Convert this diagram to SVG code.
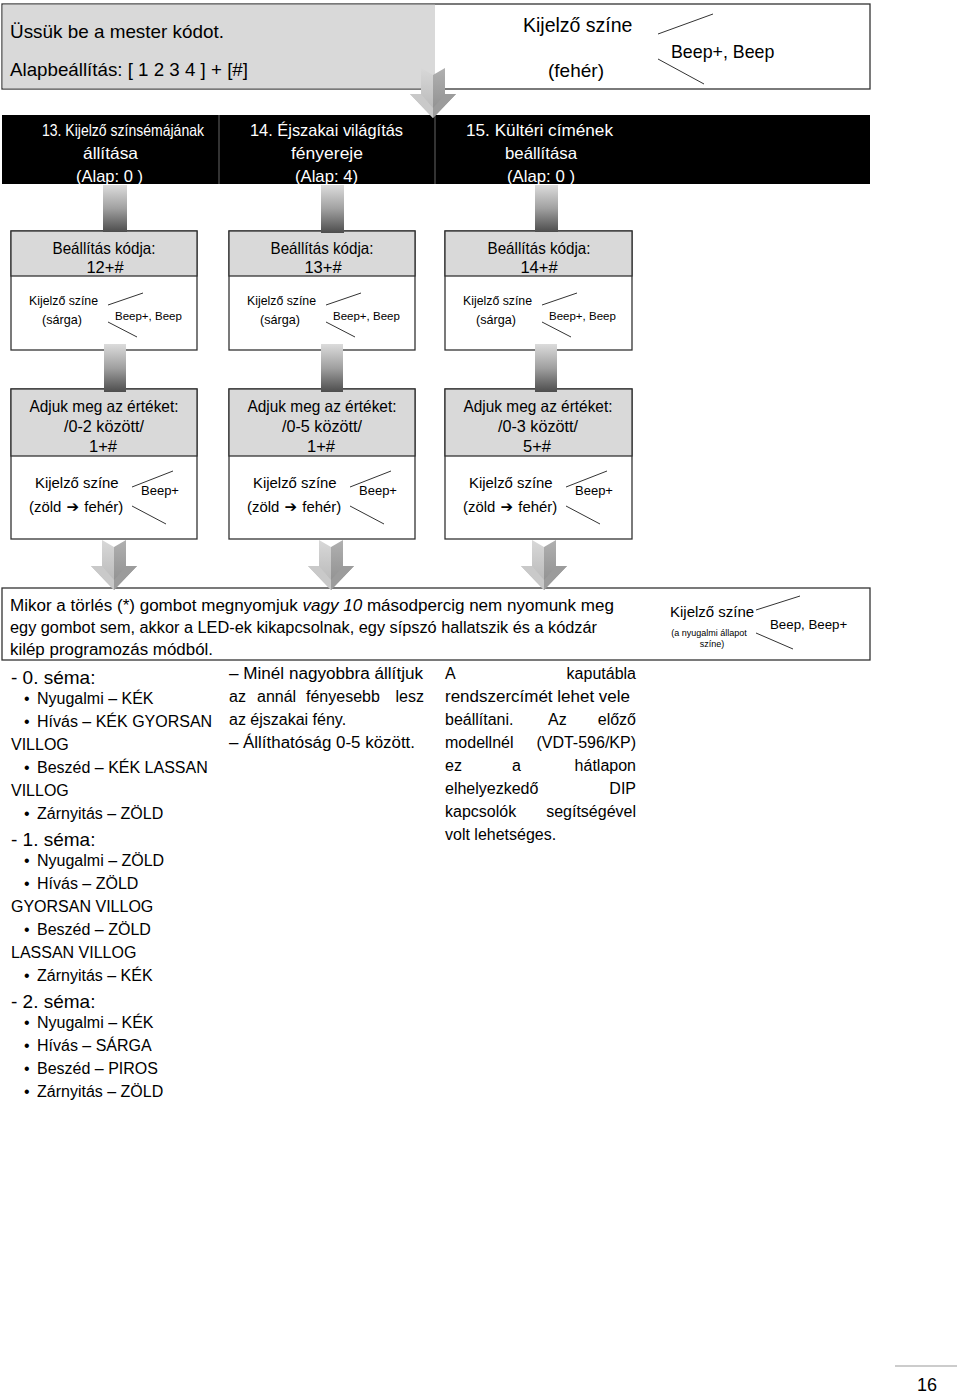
<svg xmlns="http://www.w3.org/2000/svg" width="960" height="1395" viewBox="0 0 960 1395">
<defs>
<style>
.t{font-family:'Liberation Sans',Arial,sans-serif;fill:#000}
.w{font-family:'Liberation Sans',Arial,sans-serif;fill:#fff;font-size:16.5px}
.b{font-size:16px}
.h{font-size:16.5px}
.box{fill:#fff;stroke:#333;stroke-width:1.3}
.hdr{fill:#d9d9d9;stroke:#333;stroke-width:1.3}
.ln{stroke:#333;stroke-width:1;fill:none}
.m{text-anchor:middle}
.e{text-anchor:end}
.ar{font-family:'DejaVu Sans',sans-serif;font-size:15px;font-weight:bold}
</style>
<linearGradient id="blk" x1="0" y1="0" x2="0" y2="1">
<stop offset="0" stop-color="#dcdcdc"/>
<stop offset="0.5" stop-color="#a0a0a0"/>
<stop offset="1" stop-color="#4d4d4d"/>
</linearGradient>
<linearGradient id="al" x1="0" y1="0" x2="0" y2="1">
<stop offset="0" stop-color="#d8d8d8"/>
<stop offset="1" stop-color="#b4b4b4"/>
</linearGradient>
<linearGradient id="ar" x1="0" y1="0" x2="0" y2="1">
<stop offset="0" stop-color="#b0b0b0"/>
<stop offset="1" stop-color="#8c8c8c"/>
</linearGradient>
<g id="arr">
<path d="M-12,0 L0,7 L0,50 L-23,26 L-12,26 Z" fill="url(#al)"/>
<path d="M12,0 L0,7 L0,50 L23,26 L12,26 Z" fill="url(#ar)"/>
<path d="M-23,26 L-12,26 L0,40 L0,50 Z" fill="#c9c9c9"/>
<path d="M23,26 L12,26 L0,40 L0,50 Z" fill="#9c9c9c"/>
</g>
<clipPath id="bandclip"><rect x="2" y="115" width="868" height="69"/></clipPath>
</defs>
<rect width="960" height="1395" fill="#fff"/>

<g id="node-start">
<rect x="2" y="4" width="868" height="85" fill="#fff" stroke="#333" stroke-width="1.3"/>
<rect x="2.7" y="4.7" width="432.3" height="83.6" fill="#d9d9d9"/>
<text class="t" x="10" y="38" font-size="19" textLength="214" lengthAdjust="spacingAndGlyphs">Üssük be a mester kódot.</text>
<text class="t" x="10" y="76" font-size="19" textLength="238" lengthAdjust="spacingAndGlyphs">Alapbeállítás: [ 1 2 3 4 ] + [#]</text>
<text class="t" x="523" y="32" font-size="19.5">Kijelző színe</text>
<text class="t m" x="576" y="77" font-size="19">(fehér)</text>
<line class="ln" x1="658" y1="34" x2="713" y2="14"/>
<line class="ln" x1="658" y1="59" x2="704" y2="84"/>
<text class="t" x="671" y="58" font-size="17.8">Beep+, Beep</text>
</g>

<g id="node-band">
<rect x="2" y="115" width="868" height="69" fill="#000"/>
<line x1="219" y1="115" x2="219" y2="184" stroke="#666" stroke-width="1"/>
<line x1="435" y1="115" x2="435" y2="184" stroke="#666" stroke-width="1"/>
<g clip-path="url(#bandclip)">
<text class="w" x="42" y="136" textLength="162" lengthAdjust="spacingAndGlyphs">13. Kijelző színsémájának</text>
<text class="w" x="83" y="159" textLength="55" lengthAdjust="spacingAndGlyphs">állítása</text>
<text class="w" x="76" y="182" textLength="67" lengthAdjust="spacingAndGlyphs">(Alap: 0 )</text>
<text class="w" x="250" y="136" textLength="153" lengthAdjust="spacingAndGlyphs">14. Éjszakai világítás</text>
<text class="w" x="291" y="159" textLength="72" lengthAdjust="spacingAndGlyphs">fényereje</text>
<text class="w" x="295" y="182" textLength="63" lengthAdjust="spacingAndGlyphs">(Alap: 4)</text>
<text class="w" x="466" y="136" textLength="147" lengthAdjust="spacingAndGlyphs">15. Kültéri címének</text>
<text class="w" x="505" y="159" textLength="72" lengthAdjust="spacingAndGlyphs">beállítása</text>
<text class="w" x="507" y="182" textLength="68" lengthAdjust="spacingAndGlyphs">(Alap: 0 )</text>
</g>
</g>

<g id="node-code-12">
<rect class="box" x="11" y="231" width="186" height="119"/>
<rect class="hdr" x="11" y="231" width="186" height="45"/>
<text class="t h m" x="104" y="254" textLength="103" lengthAdjust="spacingAndGlyphs">Beállítás kódja:</text>
<text class="t h m" x="105" y="273">12+#</text>
<text class="t" x="29" y="305" font-size="12.3">Kijelző színe</text>
<text class="t m" x="62" y="324" font-size="12.6">(sárga)</text>
<line class="ln" x1="108" y1="305" x2="143" y2="293"/>
<line class="ln" x1="108" y1="322" x2="137" y2="337"/>
<text class="t" x="115" y="320" font-size="11.5">Beep+, Beep</text>
</g>
<g id="node-code-13">
<rect class="box" x="229" y="231" width="186" height="119"/>
<rect class="hdr" x="229" y="231" width="186" height="45"/>
<text class="t h m" x="322" y="254" textLength="103" lengthAdjust="spacingAndGlyphs">Beállítás kódja:</text>
<text class="t h m" x="323" y="273">13+#</text>
<text class="t" x="247" y="305" font-size="12.3">Kijelző színe</text>
<text class="t m" x="280" y="324" font-size="12.6">(sárga)</text>
<line class="ln" x1="326" y1="305" x2="361" y2="293"/>
<line class="ln" x1="326" y1="322" x2="355" y2="337"/>
<text class="t" x="333" y="320" font-size="11.5">Beep+, Beep</text>
</g>
<g id="node-code-14">
<rect class="box" x="445" y="231" width="187" height="119"/>
<rect class="hdr" x="445" y="231" width="187" height="45"/>
<text class="t h m" x="539" y="254" textLength="103" lengthAdjust="spacingAndGlyphs">Beállítás kódja:</text>
<text class="t h m" x="539" y="273">14+#</text>
<text class="t" x="463" y="305" font-size="12.3">Kijelző színe</text>
<text class="t m" x="496" y="324" font-size="12.6">(sárga)</text>
<line class="ln" x1="542" y1="305" x2="577" y2="293"/>
<line class="ln" x1="542" y1="322" x2="571" y2="337"/>
<text class="t" x="549" y="320" font-size="11.5">Beep+, Beep</text>
</g>

<g id="node-value-1">
<rect class="box" x="11" y="389" width="186" height="150"/>
<rect class="hdr" x="11" y="389" width="186" height="67"/>
<text class="t h m" x="104" y="412" textLength="149" lengthAdjust="spacingAndGlyphs">Adjuk meg az értéket:</text>
<text class="t h m" x="104" y="432" textLength="80" lengthAdjust="spacingAndGlyphs">/0-2 között/</text>
<text class="t h m" x="103" y="452">1+#</text>
<text class="t" x="35" y="488" font-size="14.9">Kijelző színe</text>
<text class="t" x="29" y="512" font-size="14.9">(zöld<tspan class="ar"> ➔ </tspan>fehér)</text>
<line class="ln" x1="132" y1="487" x2="173" y2="471"/>
<line class="ln" x1="132" y1="506" x2="166" y2="524"/>
<text class="t" x="141" y="495" font-size="13">Beep+</text>
</g>
<g id="node-value-2">
<rect class="box" x="229" y="389" width="186" height="150"/>
<rect class="hdr" x="229" y="389" width="186" height="67"/>
<text class="t h m" x="322" y="412" textLength="149" lengthAdjust="spacingAndGlyphs">Adjuk meg az értéket:</text>
<text class="t h m" x="322" y="432" textLength="80" lengthAdjust="spacingAndGlyphs">/0-5 között/</text>
<text class="t h m" x="321" y="452">1+#</text>
<text class="t" x="253" y="488" font-size="14.9">Kijelző színe</text>
<text class="t" x="247" y="512" font-size="14.9">(zöld<tspan class="ar"> ➔ </tspan>fehér)</text>
<line class="ln" x1="350" y1="487" x2="391" y2="471"/>
<line class="ln" x1="350" y1="506" x2="384" y2="524"/>
<text class="t" x="359" y="495" font-size="13">Beep+</text>
</g>
<g id="node-value-3">
<rect class="box" x="445" y="389" width="187" height="150"/>
<rect class="hdr" x="445" y="389" width="187" height="67"/>
<text class="t h m" x="538" y="412" textLength="149" lengthAdjust="spacingAndGlyphs">Adjuk meg az értéket:</text>
<text class="t h m" x="538" y="432" textLength="80" lengthAdjust="spacingAndGlyphs">/0-3 között/</text>
<text class="t h m" x="537" y="452">5+#</text>
<text class="t" x="469" y="488" font-size="14.9">Kijelző színe</text>
<text class="t" x="463" y="512" font-size="14.9">(zöld<tspan class="ar"> ➔ </tspan>fehér)</text>
<line class="ln" x1="566" y1="487" x2="607" y2="471"/>
<line class="ln" x1="566" y1="506" x2="600" y2="524"/>
<text class="t" x="575" y="495" font-size="13">Beep+</text>
</g>

<g id="node-exit">
<rect x="2" y="588" width="868" height="72" fill="#fff" stroke="#333" stroke-width="1.3"/>
<text class="t b" x="10" y="611" textLength="604" lengthAdjust="spacingAndGlyphs">Mikor a törlés (*) gombot megnyomjuk <tspan font-style="italic">vagy 10</tspan> másodpercig nem nyomunk meg</text>
<text class="t b" x="10" y="633" textLength="587" lengthAdjust="spacingAndGlyphs">egy gombot sem, akkor a LED-ek kikapcsolnak, egy sípszó hallatszik és a kódzár</text>
<text class="t b" x="10" y="655" textLength="203" lengthAdjust="spacingAndGlyphs">kilép programozás módból.</text>
<text class="t" x="670" y="617" font-size="15">Kijelző színe</text>
<text class="t m" x="709" y="636" font-size="9">(a nyugalmi állapot</text>
<text class="t m" x="712" y="647" font-size="9">színe)</text>
<line class="ln" x1="756" y1="610" x2="800" y2="596"/>
<line class="ln" x1="756" y1="633" x2="793" y2="649"/>
<text class="t" x="770" y="629" font-size="13.3">Beep, Beep+</text>
</g>

<g id="connectors">
<use href="#arr" x="433" y="68"/>
<rect x="103" y="185" width="24" height="47" fill="url(#blk)"/>
<rect x="321" y="185" width="23" height="48" fill="url(#blk)"/>
<rect x="535" y="185" width="23" height="47" fill="url(#blk)"/>
<rect x="104" y="344" width="22" height="48" fill="url(#blk)"/>
<rect x="321" y="344" width="22" height="48" fill="url(#blk)"/>
<rect x="535" y="344" width="22" height="48" fill="url(#blk)"/>
<use href="#arr" x="114" y="540"/>
<use href="#arr" x="331" y="540"/>
<use href="#arr" x="544" y="540"/>
</g>

<g id="text-columns">
<text class="t" x="11" y="684" font-size="19">- 0. séma:</text>
<g class="t b">
<text x="24" y="704">•</text><text x="37" y="704">Nyugalmi – KÉK</text>
<text x="24" y="727">•</text><text x="37" y="727">Hívás – KÉK GYORSAN</text>
<text x="11" y="750">VILLOG</text>
<text x="24" y="773">•</text><text x="37" y="773">Beszéd – KÉK LASSAN</text>
<text x="11" y="796">VILLOG</text>
<text x="24" y="819">•</text><text x="37" y="819">Zárnyitás – ZÖLD</text>
</g>
<text class="t" x="11" y="846" font-size="19">- 1. séma:</text>
<g class="t b">
<text x="24" y="866">•</text><text x="37" y="866">Nyugalmi – ZÖLD</text>
<text x="24" y="889">•</text><text x="37" y="889">Hívás – ZÖLD</text>
<text x="11" y="912">GYORSAN VILLOG</text>
<text x="24" y="935">•</text><text x="37" y="935">Beszéd – ZÖLD</text>
<text x="11" y="958">LASSAN VILLOG</text>
<text x="24" y="981">•</text><text x="37" y="981">Zárnyitás – KÉK</text>
</g>
<text class="t" x="11" y="1008" font-size="19">- 2. séma:</text>
<g class="t b">
<text x="24" y="1028">•</text><text x="37" y="1028">Nyugalmi – KÉK</text>
<text x="24" y="1051">•</text><text x="37" y="1051">Hívás – SÁRGA</text>
<text x="24" y="1074">•</text><text x="37" y="1074">Beszéd – PIROS</text>
<text x="24" y="1097">•</text><text x="37" y="1097">Zárnyitás – ZÖLD</text>
</g>

<g class="t b">
<text x="229" y="679" textLength="194" lengthAdjust="spacingAndGlyphs">– Minél nagyobbra állítjuk</text>
<text x="229" y="702">az</text>
<text x="257" y="702">annál</text>
<text x="306" y="702">fényesebb</text>
<text class="e" x="424" y="702">lesz</text>
<text x="229" y="725">az éjszakai fény.</text>
<text x="229" y="748" textLength="186" lengthAdjust="spacingAndGlyphs">– Állíthatóság 0-5 között.</text>
</g>

<g class="t b">
<text x="445" y="679">A</text>
<text class="e" x="636" y="679">kaputábla</text>
<text x="445" y="702" textLength="185" lengthAdjust="spacingAndGlyphs">rendszercímét lehet vele</text>
<text x="445" y="725">beállítani.</text>
<text x="548" y="725">Az</text>
<text class="e" x="636" y="725">előző</text>
<text x="445" y="748">modellnél</text>
<text class="e" x="636" y="748">(VDT-596/KP)</text>
<text x="445" y="771">ez</text>
<text x="512" y="771">a</text>
<text class="e" x="636" y="771">hátlapon</text>
<text x="445" y="794">elhelyezkedő</text>
<text class="e" x="636" y="794">DIP</text>
<text x="445" y="817">kapcsolók</text>
<text class="e" x="636" y="817">segítségével</text>
<text x="445" y="840">volt lehetséges.</text>
</g>
</g>

<g id="page-number">
<line x1="895" y1="1366" x2="957" y2="1366" stroke="#999" stroke-width="1"/>
<text class="t" x="917" y="1391" font-size="18">16</text>
</g>
</svg>
